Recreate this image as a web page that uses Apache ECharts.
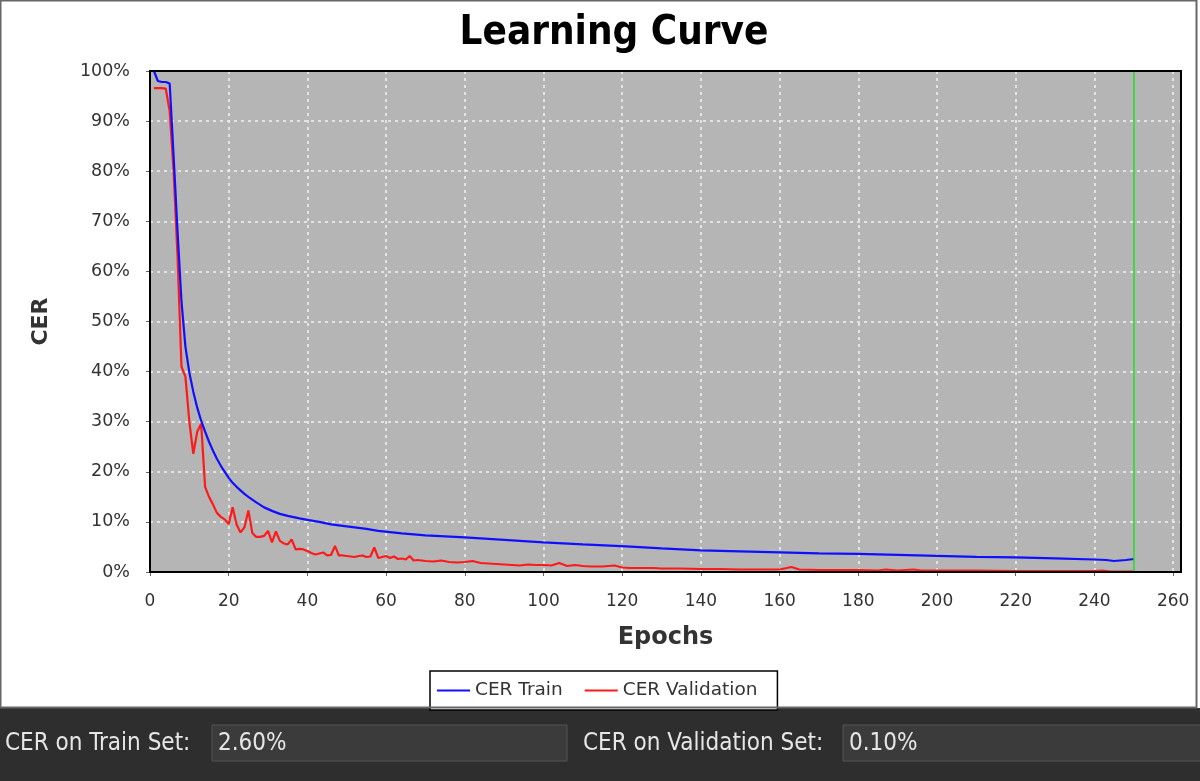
<!DOCTYPE html>
<html>
<head>
<meta charset="utf-8">
<script src="https://cdn.jsdelivr.net/npm/echarts@6/dist/echarts.min.js"></script>
<style>
html,body{margin:0;padding:0;background:#2e2e2e;}
#chart{width:1200px;height:781px;}
</style>
</head>
<body>
<div id="chart"></div>
<script>
// ---- Data ----
const xTickValues = [0,20,40,60,80,100,120,140,160,180,200,220,240,260];

const trainEpochs = [1,2,3,4,5,6,7,8,9,10,11,12,13,14,15,16,17,18,19,20,21,22,23,24,25,27,29,31,33,35,38,40,43,46,50,55,58,64,70,80,90,100,110,121,130,140,150,160,170,180,190,200,210,220,230,240,243,245,248,250];
const trainCER = [100,98,97.8,97.8,97.5,83,68,54,45,39.8,36,32.8,30.2,28,26,24.2,22.6,21.2,20,18.8,17.8,17,16.3,15.6,15,13.9,12.9,12.2,11.6,11.2,10.7,10.4,10,9.5,9.1,8.6,8.2,7.7,7.3,6.9,6.4,5.9,5.5,5.1,4.7,4.3,4.1,3.9,3.7,3.6,3.4,3.2,3.0,2.9,2.7,2.5,2.4,2.2,2.4,2.6];

const valEpochs = [1,2,3,4,5,6,7,8,9,10,11,12,13,14,15,16,17,18,19,20,21,22,23,24,25,26,27,28,29,30,31,32,33,34,35,36,37,38,39,40,41,42,43,44,45,46,47,48,49,50,51,52,53,54,55,56,57,58,59,60,61,62,63,64,65,66,67,68,69,70,72,74,76,78,80,82,84,86,88,90,92,94,96,98,100,102,104,106,108,110,112,115,118,120,122,125,128,130,135,140,145,150,155,160,163,165,170,175,180,185,187,190,194,196,200,210,220,230,240,242,244,246,248,250];
const valCER = [96.6,96.6,96.6,96.5,92,80,63,41,39,30,23.6,28,29.6,17,15,13.5,11.8,11,10.5,9.6,12.9,9.5,7.9,8.9,12.3,7.8,7.0,7.0,7.2,8.2,5.9,8.1,6.2,5.7,5.5,6.5,4.5,4.6,4.5,4.2,3.8,3.5,3.7,3.9,3.3,3.4,5.2,3.3,3.3,3.2,3.1,3.0,3.2,3.3,3.0,3.1,4.9,2.8,3.0,3.2,2.8,3.1,2.6,2.7,2.5,3.2,2.3,2.4,2.3,2.2,2.1,2.3,2.0,1.9,2.0,2.2,1.8,1.7,1.6,1.5,1.4,1.3,1.5,1.4,1.4,1.3,1.8,1.2,1.4,1.2,1.1,1.1,1.3,0.9,0.8,0.8,0.8,0.7,0.7,0.6,0.6,0.5,0.5,0.5,1.0,0.5,0.4,0.4,0.4,0.3,0.5,0.3,0.5,0.3,0.3,0.3,0.2,0.2,0.2,0.3,0.1,0.1,0.1,0.1];

const seriesNames = ['CER Train','CER Validation'];
const bestEpoch = 250;
const trainFinalText = '2.60%';
const valFinalText = '0.10%';

// ---- Chart ----
const chart = echarts.init(document.getElementById('chart'), null, {renderer:'canvas'});
const axisFont = 'DejaVu Sans';
const G = {left: 150, right: 19, top: 71, bottom: 209};
const plotW = 1200 - G.left - G.right, plotH = 781 - G.top - G.bottom;
const bottomFont = '24px "DejaVu Sans Condensed"';
const option = {
  animation: false,
  backgroundColor: '#ffffff',
  title: {
    text: 'Learning Curve',
    left: 609, top: 9, textAlign: 'center',
    textStyle: {fontFamily: 'DejaVu Sans Condensed', fontWeight: 'bold', fontSize: 40, color: '#000'}
  },
  legend: {
    data: [{name: seriesNames[0], icon: 'rect'}, {name: seriesNames[1], icon: 'rect'}],
    left: 430, top: 671,
    itemWidth: 33, itemHeight: 2, itemGap: 22,
    padding: [10, 20, 10, 7],
    backgroundColor: '#ffffff', borderColor: '#000', borderWidth: 1.5,
    textStyle: {fontFamily: axisFont, fontSize: 18.5, color: '#333'}
  },
  grid: Object.assign({show: true, backgroundColor: '#b5b5b5', borderWidth: 0}, G),
  xAxis: {
    type: 'value', min: 0, max: 262, offset: 8,
    name: 'Epochs', nameLocation: 'middle', nameGap: 46,
    nameTextStyle: {fontFamily: axisFont, fontWeight: 'bold', fontSize: 24, color: '#333'},
    axisLine: {show: true, lineStyle: {color: '#666', width: 1}},
    axisTick: {show: true, length: 4, lineStyle: {color: '#666'}, customValues: xTickValues},
    axisLabel: {fontFamily: axisFont, fontSize: 17, color: '#333', margin: 13, customValues: xTickValues},
    splitLine: {show: true, lineStyle: {color: '#f2f2f2', type: [3, 4], width: 1.5}}
  },
  yAxis: {
    type: 'value', min: 0, max: 100, interval: 10, offset: 8,
    name: 'CER', nameLocation: 'middle', nameGap: 90, nameRotate: 90,
    nameTextStyle: {fontFamily: axisFont, fontWeight: 'bold', fontSize: 22, color: '#333'},
    axisLine: {show: true, lineStyle: {color: '#666', width: 1}},
    axisTick: {show: true, length: 4, lineStyle: {color: '#666'}},
    axisLabel: {fontFamily: axisFont, fontSize: 17.5, color: '#333', margin: 12, formatter: '{value}%'},
    splitLine: {show: true, lineStyle: {color: '#f2f2f2', type: [3, 4], width: 1.5}}
  },
  series: [
    {
      name: seriesNames[0], type: 'line', showSymbol: false, symbol: 'none',
      data: trainEpochs.map((e, i) => [e, trainCER[i]]),
      lineStyle: {color: '#1010ff', width: 2.2}, itemStyle: {color: '#1010ff'},
      z: 3,
      markLine: {
        silent: true, symbol: ['none', 'none'], label: {show: false},
        lineStyle: {color: '#22e022', width: 1.5, type: 'solid'},
        data: [{xAxis: bestEpoch}]
      }
    },
    {
      name: seriesNames[1], type: 'line', showSymbol: false, symbol: 'none',
      data: valEpochs.map((e, i) => [e, valCER[i]]),
      lineStyle: {color: '#ff1a1a', width: 2.2}, itemStyle: {color: '#ff1a1a'},
      z: 2
    }
  ],
  graphic: [
    {type: 'rect', shape: {x: G.left, y: G.top, width: plotW, height: plotH}, style: {fill: 'none', stroke: '#000', lineWidth: 2}, z: 100},
    {type: 'rect', shape: {x: 0, y: 708, width: 1200, height: 73}, style: {fill: '#2e2e2e'}, z: -1},
    {type: 'rect', shape: {x: 0.5, y: 0.5, width: 1196, height: 707}, style: {fill: 'none', stroke: '#666', lineWidth: 2}, z: 10},
    {type: 'rect', shape: {x: 212, y: 725, width: 355, height: 36}, style: {fill: '#3b3b3b', stroke: '#555', lineWidth: 1}},
    {type: 'rect', shape: {x: 843, y: 725, width: 360, height: 36}, style: {fill: '#3b3b3b', stroke: '#555', lineWidth: 1}},
    {type: 'text', x: 5, y: 744, style: {text: 'CER on Train Set:', fill: '#e6e6e6', font: bottomFont, textVerticalAlign: 'middle'}},
    {type: 'text', x: 218, y: 744, style: {text: trainFinalText, fill: '#e6e6e6', font: bottomFont, textVerticalAlign: 'middle'}},
    {type: 'text', x: 583, y: 744, style: {text: 'CER on Validation Set:', fill: '#e6e6e6', font: bottomFont, textVerticalAlign: 'middle'}},
    {type: 'text', x: 849, y: 744, style: {text: valFinalText, fill: '#e6e6e6', font: bottomFont, textVerticalAlign: 'middle'}}
  ]
};
chart.setOption(option);
</script>
</body>
</html>
